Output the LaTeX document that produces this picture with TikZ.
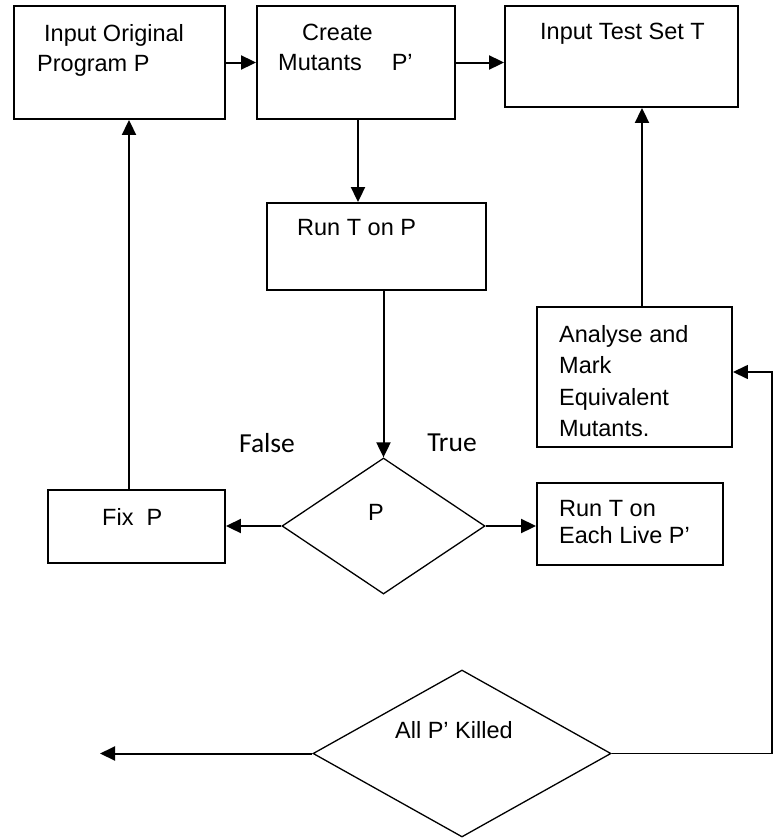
\documentclass[tikz,border=0pt]{standalone}
\usepackage{fontspec}
\setmainfont{Liberation Sans}
\newfontfamily\calfont{Carlito}
\usepackage{tikz}
\usetikzlibrary{arrows.meta,shapes.geometric}
\tikzset{
    Box/.style = {draw,line width=1.9pt,inner sep=0pt},
    Decision/.style = {draw,diamond,line width=1.3pt,inner sep=0pt},
    Txt/.style = {anchor=north west,inner sep=0pt,align=left,
        font=\fontsize{23.5}{30}\selectfont},
    Cond/.style = {inner sep=0pt,font=\calfont\fontsize{27.5}{30}\selectfont},
    Arrow/.style = {line width=2pt,-{Triangle[length=15pt,width=14pt]}}
}
\begin{document}
\begin{tikzpicture}[x=1pt,y=-1pt]
    \useasboundingbox (0,0) rectangle (778,838);
    % boxes
    \node[Box,minimum width=211pt,minimum height=113pt] (orig) at (119.5,62.5) {};
    \node[Box,minimum width=198pt,minimum height=113pt] (create) at (356,62.5) {};
    \node[Box,minimum width=233pt,minimum height=101pt] (testset) at (621.5,56.5) {};
    \node[Box,minimum width=219pt,minimum height=87pt] (run) at (376.5,246.5) {};
    \node[Box,minimum width=177pt,minimum height=73pt] (fix) at (136.5,526.5) {};
    \node[Box,minimum width=195pt,minimum height=140pt] (analyse) at (634.5,377) {};
    \node[Box,minimum width=186pt,minimum height=82pt] (live) at (630,524) {};
    \node[Decision,minimum width=203pt,minimum height=136pt] (check) at (383.5,526) {};
    \node[Decision,minimum width=298pt,minimum height=167pt] (killed) at (462,753.5) {};
    % texts
    \node[Txt] (origtxt) at (37,24) {\hspace{7pt}Input Original\\Program P};
    \node[Txt] (createtxt) at (278,24) {\hspace{24pt}Create\\Mutants\hspace{30pt}P’};
    \node[Txt] (testsettxt) at (540,23) {Input Test Set T};
    \node[Txt] (runtxt) at (297,219) {Run T on P};
    \node[Txt] (fixtxt) at (102,508) {Fix\ \ P};
    \node[Txt] (checktxt) at (368,504) {P};
    \node[Txt,font=\fontsize{23.5}{31.5}\selectfont] (analysetxt) at (559,325)
        {Analyse and\\Mark\\Equivalent\\Mutants.};
    \node[Txt,font=\fontsize{23.5}{27}\selectfont] (livetxt) at (559,500)
        {Run T on\\Each Live P’};
    \node[Txt,font=\fontsize{23.5}{26}\selectfont] (killedtxt) at (395,721) {All P’ Killed};
    \node[Cond] (false) at (267,443) {False};
    \node[Cond] (true) at (452,443) {True};
    \coordinate (exit) at (100,753.5);
    \coordinate (loop) at (772,372);
    % connectors
    \foreach \A/\B in {orig/create,create/testset}
        {\draw[Arrow] (\A.east) -- (\A.east -| \B.west);}
    \draw[Arrow] ([xshift=2pt]create.south) -- ([xshift=2pt]create.south |- run.north);
    \draw[Arrow] (run.south -| check.north) -- (check.north);
    \draw[Arrow] (check.west) -- (check.west -| fix.east);
    \draw[Arrow] (check.east) -- (check.east -| live.west);
    \draw[Arrow] ([xshift=-7.5pt]fix.north) -- ([xshift=-7.5pt]fix.north |- orig.south);
    \draw[Arrow] ([xshift=7.5pt]analyse.north) -- ([xshift=7.5pt]analyse.north |- testset.south);
    \draw[Arrow] (killed.west) -- (exit);
    \draw[Arrow,line width=1.5pt] (killed.east) -| (loop) -- (loop -| analyse.east);
\end{tikzpicture}
\end{document}
